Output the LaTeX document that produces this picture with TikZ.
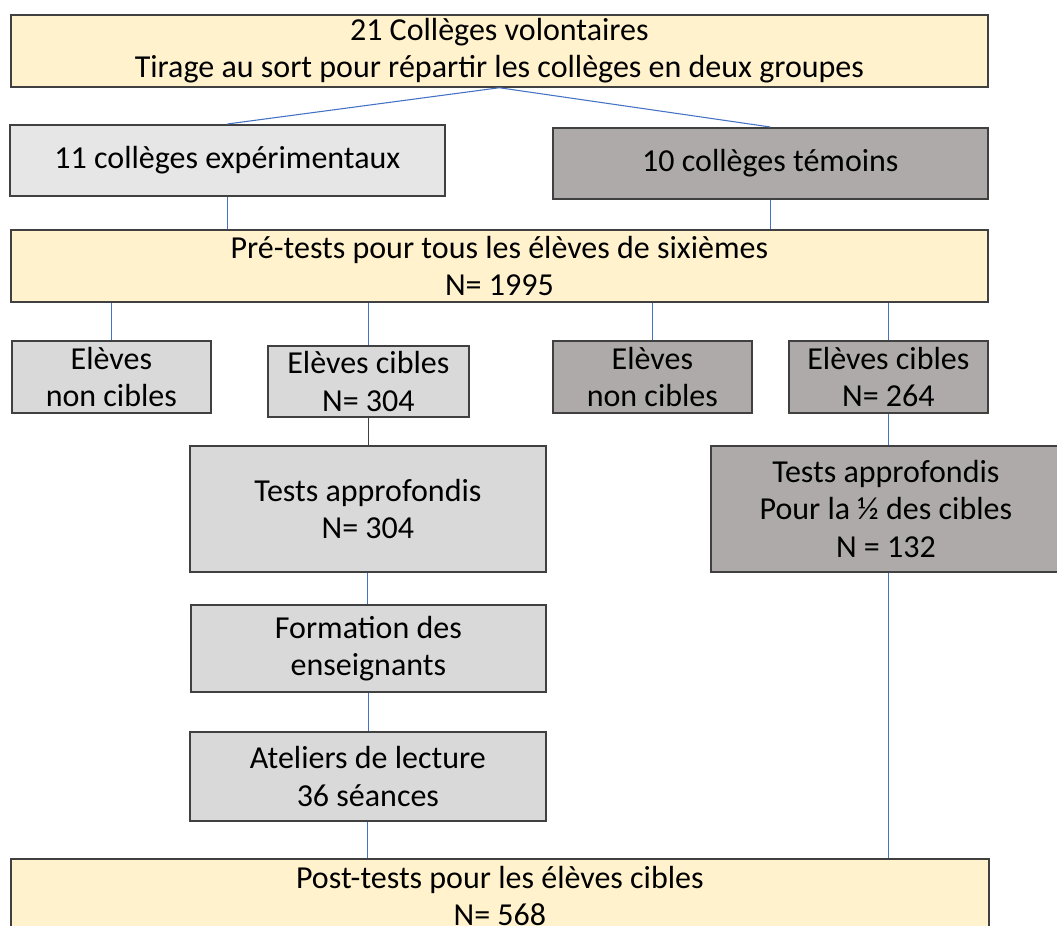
\documentclass[tikz,border=0pt]{standalone}
\usepackage{fontspec}
\setmainfont{Carlito}
\usetikzlibrary{calc}
\definecolor{jaune}{HTML}{FFF2CC}
\definecolor{grisA}{HTML}{E7E6E6}
\definecolor{grisB}{HTML}{D9D9D9}
\definecolor{grisC}{HTML}{AEAAAA}
\definecolor{bord}{HTML}{404040}
\definecolor{bleu}{HTML}{4472C4}
\tikzset{
	boite/.style={draw=bord, line width=1.3pt, inner sep=0pt, align=center, anchor=north west, font=\fontsize{24}{28}\selectfont},
	dim/.style 2 args={minimum width=#1*0.75pt, minimum height=#2*0.75pt},
	jaunebox/.style={boite, fill=jaune},
	tresclair/.style={boite, fill=grisA},
	clair/.style={boite, fill=grisB},
	fonce/.style={boite, fill=grisC},
	lien/.style={draw=bleu, line width=0.8pt},
	noir/.style={draw=bord, line width=0.8pt}
}

\begin{document}
\begin{tikzpicture}[x=0.75pt, y=-0.75pt]
		%%%%% START %%%%%
		
		\useasboundingbox (0, 0) rectangle (1057, 925);
		
		\node[jaunebox, dim={977}{72}] (colleges) at (10, 14) {21 Collèges volontaires\\Tirage au sort pour répartir les collèges en deux groupes};
		\node[tresclair, dim={435}{71}] (exp) at (9, 124) {11 collèges expérimentaux};
		\node[fonce, dim={435}{71}] (temoins) at (552, 127) {10 collèges témoins};
		
		\node[jaunebox, dim={977}{72}] (pretests) at (10, 229) {Pré-tests pour tous les élèves de sixièmes\\N= 1995};
		
		\node[clair, dim={199}{72}] (nonciblesE) at (11, 340) {Elèves\\non cibles};
		\node[clair, dim={201}{71}] (ciblesE) at (267, 345) {Elèves cibles\\N= 304};
		\node[fonce, dim={199}{72}] (nonciblesT) at (552, 340) {Elèves\\non cibles};
		\node[fonce, dim={199}{72}] (ciblesT) at (788, 340) {Elèves cibles\\N= 264};
		
		\node[clair, dim={356}{126}] (testsE) at (189, 445) {Tests approfondis\\N= 304};
		\node[fonce, dim={350}{126}] (testsT) at (710, 445) {Tests approfondis\\Pour la ½ des cibles\\N = 132};
		\node[clair, dim={355}{87}] (formation) at (190, 604) {Formation des\\enseignants};
		\node[clair, dim={356}{89}] (ateliers) at (189, 731) {Ateliers de lecture\\36 séances};
		
		\node[jaunebox, dim={978}{74}] (posttests) at (10, 858) {Post-tests pour les élèves cibles\\N= 568};
		
		\draw[lien] (colleges.south) -- (exp.north);
		\draw[lien] (colleges.south) -- (temoins.north);
		\draw[lien] (exp.south) -- (pretests.north -| exp.south);
		\draw[lien] (temoins.south) -- (pretests.north -| temoins.south);
		
		\foreach \b in {nonciblesE, ciblesE, nonciblesT, ciblesT}
			\draw[lien] (pretests.south -| \b.north) -- (\b.north);
		
		\draw[noir] (ciblesE.south) -- (testsE.north -| ciblesE.south);
		\draw[lien] (testsE.south) -- (formation.north -| testsE.south);
		\draw[lien] (formation.south) -- (ateliers.north -| formation.south);
		\draw[lien] (ateliers.south) -- (posttests.north -| ateliers.south);
		
		\draw[lien] (ciblesT.south) -- (testsT.north -| ciblesT.south);
		\draw[lien] (testsT.south -| ciblesT.south) -- (posttests.north -| ciblesT.south);
		
		%%%%% END %%%%%
\end{tikzpicture}
\end{document}
